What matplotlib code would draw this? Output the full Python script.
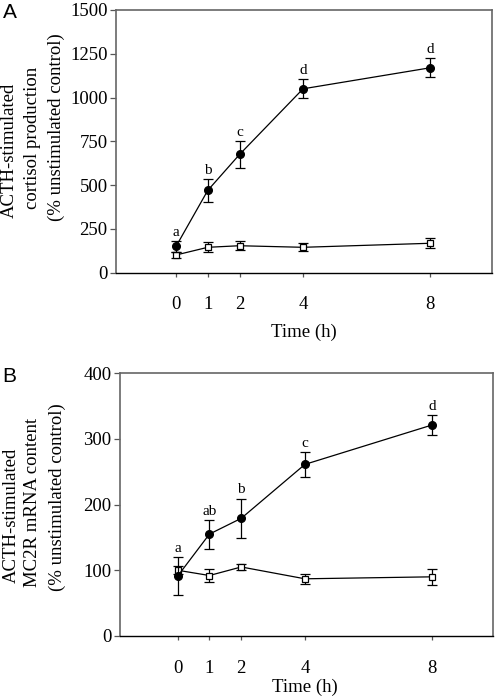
import matplotlib
matplotlib.use("Agg")
import matplotlib.pyplot as plt

plt.rcParams['font.family'] = ['Liberation Serif', 'DejaVu Serif']

time_h = [0, 1, 2, 4, 8]
xtick_labels = ['0', '1', '2', '4', '8']

# Panel A: cortisol production
a_acth = [150, 470, 675, 1050, 1170]
a_acth_err = [30, 65, 75, 55, 55]
a_ctrl = [101, 145, 154, 145, 168]
a_ctrl_err = [15, 28, 25, 22, 28]
a_letters = ['a', 'b', 'c', 'd', 'd']
a_yticks = [0, 250, 500, 750, 1000, 1250, 1500]

# Panel B: MC2R mRNA content
b_acth = [91, 155, 179, 261, 321]
b_acth_err = [29, 22, 30, 19, 15]
b_ctrl = [100, 92, 105, 87, 90]
b_ctrl_err = [6, 10, 5, 8, 12]
b_letters = ['a', 'ab', 'b', 'c', 'd']
b_yticks = [0, 100, 200, 300, 400]

W, H = 498, 696
fig = plt.figure(figsize=(W / 100, H / 100), dpi=100)


def px_axes(l, t, r, b):
    return fig.add_axes([l / W, 1 - b / H, (r - l) / W, (b - t) / H])


def draw(ax, acth, acth_err, ctrl, ctrl_err, letters, yticks, xlim):
    ax.errorbar(time_h, ctrl, yerr=ctrl_err, fmt='-s', color='black', lw=0.9,
                ms=4.2, mfc='white', mec='black', mew=0.9, capsize=3.5,
                elinewidth=0.9, capthick=0.9, zorder=2)
    ax.errorbar(time_h, acth, yerr=acth_err, fmt='-o', color='black', lw=0.9,
                ms=5.5, mfc='black', mec='black', capsize=3.5,
                elinewidth=0.9, capthick=0.9, zorder=3)
    for x, y, e, lab in zip(time_h, acth, acth_err, letters):
        ax.annotate(lab, (x, y + e), xytext=(0, 1.5), textcoords='offset points',
                    ha='center', va='bottom', fontsize=11)
    ax.set_xlim(*xlim)
    ax.set_ylim(yticks[0], yticks[-1])
    ax.set_yticks(yticks)
    ax.set_xticks(time_h)
    ax.set_xticklabels(xtick_labels)
    ax.tick_params(axis='y', direction='out', length=4, width=0.9,
                   color='#555555', labelsize=13.5, pad=2)
    ax.tick_params(axis='x', direction='out', length=3, width=0.9,
                   color='#555555', labelsize=13.5, pad=14)
    for s in ['left', 'top', 'right']:
        ax.spines[s].set_color('#666666')
        ax.spines[s].set_linewidth(1.2)
    ax.spines['bottom'].set_color('black')
    ax.spines['bottom'].set_linewidth(1.0)


axA = px_axes(116, 10, 492, 272.7)
draw(axA, a_acth, a_acth_err, a_ctrl, a_ctrl_err, a_letters, a_yticks, (-1.89, 9.95))
axB = px_axes(120, 373, 493, 636)
draw(axB, b_acth, b_acth_err, b_ctrl, b_ctrl_err, b_letters, b_yticks, (-1.81, 9.91))


def ftext(x, y, s, **kw):
    fig.text(x / W, 1 - y / H, s, **kw)


# x labels
ftext(304, 332, 'Time (h)', ha='center', va='center', fontsize=13.5)
ftext(305, 687, 'Time (h)', ha='center', va='center', fontsize=13.5)

# y labels (three lines each)
for (x, y, s) in [(9.5, 150, 'ACTH-stimulated'), (32.5, 138, 'cortisol production'),
                  (56.5, 127, '(% unstimulated control)'),
                  (11, 515, 'ACTH-stimulated'), (32.5, 502, 'MC2R mRNA content'),
                  (57.5, 497, '(% unstimulated control)')]:
    ftext(x, y, s, rotation=90, ha='center', va='center', fontsize=13.5)

# panel letters
ftext(10, 12, 'A', ha='center', va='center', fontsize=15,
      family=['Liberation Sans', 'DejaVu Sans'])
ftext(9, 376, 'B', ha='center', va='center', fontsize=15,
      family=['Liberation Sans', 'DejaVu Sans'])

fig.savefig('out.png', dpi=100)
